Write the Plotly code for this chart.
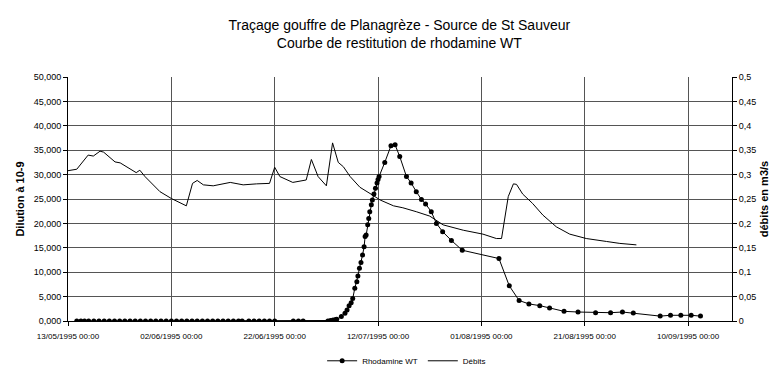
import pandas as pd
import plotly.graph_objects as go

start = pd.Timestamp("1995-05-13")

# Débits (m3/s) - day offsets from 13/05/1995 00:00
deb_days = [0, 1.7, 3.9, 4.9, 6.2, 6.9, 9.1, 10.1, 13.2, 13.9, 14.9, 17.8, 20.0, 22.9,
            24.1, 25.0, 26.2, 28.1, 31.4, 33.9, 36.5, 39.0, 40.0, 41.0, 43.5, 46.1,
            47.1, 48.4, 50.0, 51.2, 52.3, 53.3, 54.6, 56.5, 59.1, 60.4, 63.0, 64.8,
            67.4, 70.0, 72.6, 76.5, 80.3, 82.9, 83.9, 85.2, 86.2, 86.8, 88.0, 89.9,
            91.9, 94.5, 97.1, 100.3, 104.2, 106.8, 110.0]
deb_vals = [0.308, 0.311, 0.340, 0.338, 0.348, 0.346, 0.326, 0.324, 0.304, 0.309, 0.296,
            0.265, 0.251, 0.236, 0.282, 0.288, 0.279, 0.277, 0.284, 0.279, 0.281, 0.282,
            0.315, 0.296, 0.284, 0.289, 0.331, 0.296, 0.277, 0.365, 0.325, 0.316, 0.296,
            0.274, 0.257, 0.248, 0.236, 0.232, 0.224, 0.215, 0.197, 0.186, 0.178, 0.169,
            0.169, 0.255, 0.281, 0.280, 0.260, 0.241, 0.217, 0.193, 0.178, 0.169, 0.163,
            0.159, 0.156]

# Rhodamine WT (dilution à 10-9) - day offsets from 13/05/1995 00:00
rho_days = [1.7, 2.5, 3.2, 4.0, 5.0, 6.0, 7.0, 8.0, 9.0, 10.0, 11.0, 12.0, 13.0, 14.0,
            15.0, 16.0, 17.0, 18.0, 19.0, 20.0, 21.0, 22.0, 23.0, 24.0, 25.0, 26.0,
            27.0, 28.0, 29.0, 30.0, 31.0, 32.0, 33.0, 33.7,
            35.0, 36.0, 37.0, 38.0, 39.0, 40.0, 43.6, 44.6, 45.5,
            50.3, 50.8, 51.3, 51.8, 52.0, 52.9, 53.6, 54.0, 54.4, 54.8, 55.1, 55.5,
            55.9, 56.1, 56.4, 56.7, 57.0, 57.3, 57.5, 57.7, 58.0, 58.2, 58.4, 58.7,
            58.9, 59.2, 59.5, 59.8, 60.0, 60.2, 61.3, 62.5, 63.3, 64.2, 65.5, 66.4,
            67.4, 68.4, 69.2, 70.3, 71.3, 72.5, 74.2, 76.3, 83.4, 85.4, 87.3, 89.2,
            91.3, 93.2, 96.0, 98.7, 102.1, 105.0, 107.3, 109.4, 114.6, 116.6, 118.6,
            120.6, 122.4]
rho_vals = [0.0, 0.0, 0.0, 0.0, 0.0, 0.0, 0.0, 0.0, 0.0, 0.0, 0.0, 0.0, 0.0, 0.0,
            0.0, 0.0, 0.0, 0.0, 0.0, 0.0, 0.0, 0.0, 0.0, 0.0, 0.0, 0.0,
            0.0, 0.0, 0.0, 0.0, 0.0, 0.0, 0.0, 0.0,
            0.0, 0.0, 0.0, 0.0, 0.0, 0.0, 0.0, 0.0, 0.0,
            0.0, 0.1, 0.2, 0.3, 0.35, 0.9, 1.6, 2.25, 3.1, 3.75, 4.6, 6.7,
            8.05, 9.2, 10.8, 12.0, 13.5, 15.2, 17.3, 17.6, 19.7, 21.0, 22.4, 23.8,
            24.8, 26.0, 27.2, 28.3, 29.0, 29.6, 32.5, 35.9, 36.1, 33.7, 29.6, 28.3,
            26.5, 24.9, 24.0, 22.4, 20.0, 18.3, 16.5, 14.5, 12.8, 7.2, 4.2, 3.5,
            3.15, 2.66, 1.98, 1.84, 1.7, 1.7, 1.84, 1.64, 1.0, 1.17, 1.17,
            1.17, 1.0]

# Axis ticks
x_tick_dates = ["1995-05-13", "1995-06-02", "1995-06-22", "1995-07-12",
                "1995-08-01", "1995-08-21", "1995-09-10"]
x_tick_labels = ["13/05/1995 00:00", "02/06/1995 00:00", "22/06/1995 00:00",
                 "12/07/1995 00:00", "01/08/1995 00:00", "21/08/1995 00:00",
                 "10/09/1995 00:00"]
y1_ticks = [0, 5, 10, 15, 20, 25, 30, 35, 40, 45, 50]
y1_labels = ["0,000", "5,000", "10,000", "15,000", "20,000", "25,000", "30,000",
             "35,000", "40,000", "45,000", "50,000"]
y2_ticks = [0, 0.05, 0.1, 0.15, 0.2, 0.25, 0.3, 0.35, 0.4, 0.45, 0.5]
y2_labels = ["0", "0,05", "0,1", "0,15", "0,2", "0,25", "0,3", "0,35", "0,4", "0,45", "0,5"]

deb_x = [start + pd.Timedelta(days=d) for d in deb_days]
rho_x = [start + pd.Timedelta(days=d) for d in rho_days]

FONT = "Liberation Sans, Arial, sans-serif"

fig = go.Figure()
fig.add_trace(go.Scatter(x=rho_x, y=rho_vals, name="Rhodamine WT", mode="lines+markers",
                         line=dict(color="black", width=1),
                         marker=dict(color="black", size=5, symbol="circle")))
fig.add_trace(go.Scatter(x=deb_x, y=deb_vals, name="Débits", mode="lines", yaxis="y2",
                         line=dict(color="black", width=1)))

fig.update_layout(
    width=783, height=377,
    autosize=False,
    margin=dict(l=68, r=51, t=77, b=56, autoexpand=False),
    paper_bgcolor="white", plot_bgcolor="white",
    font=dict(family=FONT, size=9, color="black"),
    title=dict(text="Traçage gouffre de Planagrèze - Source de St Sauveur<br>Courbe de restitution de rhodamine WT",
               x=0.51, xanchor="center", y=0.921, yanchor="top",
               font=dict(family=FONT, size=14, color="black")),
    xaxis=dict(type="date", automargin=False,
               range=[start, start + pd.Timedelta(days=128.5)],
               tickmode="array", tickvals=x_tick_dates, ticktext=x_tick_labels,
               showgrid=True, gridcolor="#555", gridwidth=1,
               showline=True, linecolor="black", linewidth=1,
               ticks="outside", ticklen=4, tickcolor="black",
               ticklabelstandoff=3,
               tickfont=dict(size=8), zeroline=False),
    yaxis=dict(range=[0, 50], automargin=False,
               tickmode="array", tickvals=y1_ticks, ticktext=y1_labels,
               showgrid=True, gridcolor="#555", gridwidth=1,
               showline=True, linecolor="black", linewidth=1, mirror=False,
               ticks="outside", ticklen=4, tickcolor="black", zeroline=False,
               title=dict(text="<b>Dilution à 10-9</b>", font=dict(size=11), standoff=6),
               tickfont=dict(size=9)),
    yaxis2=dict(range=[0, 0.5], overlaying="y", side="right", automargin=False,
                tickmode="array", tickvals=y2_ticks, ticktext=y2_labels,
                showgrid=False, showline=True, linecolor="black", linewidth=1,
                ticks="outside", ticklen=4, tickcolor="black", zeroline=False,
                title=dict(text="<b>débits en m3/s</b>", font=dict(size=11), standoff=4),
                tickfont=dict(size=9)),
    legend=dict(orientation="h", x=0.51, xanchor="center",
                yref="container", y=0.043, yanchor="middle",
                font=dict(size=8), bgcolor="rgba(0,0,0,0)"),
    showlegend=True,
)

fig.write_html("out.html", config={"displayModeBar": False},
               post_script="document.body.style.margin='0';document.body.style.overflow='hidden';")
